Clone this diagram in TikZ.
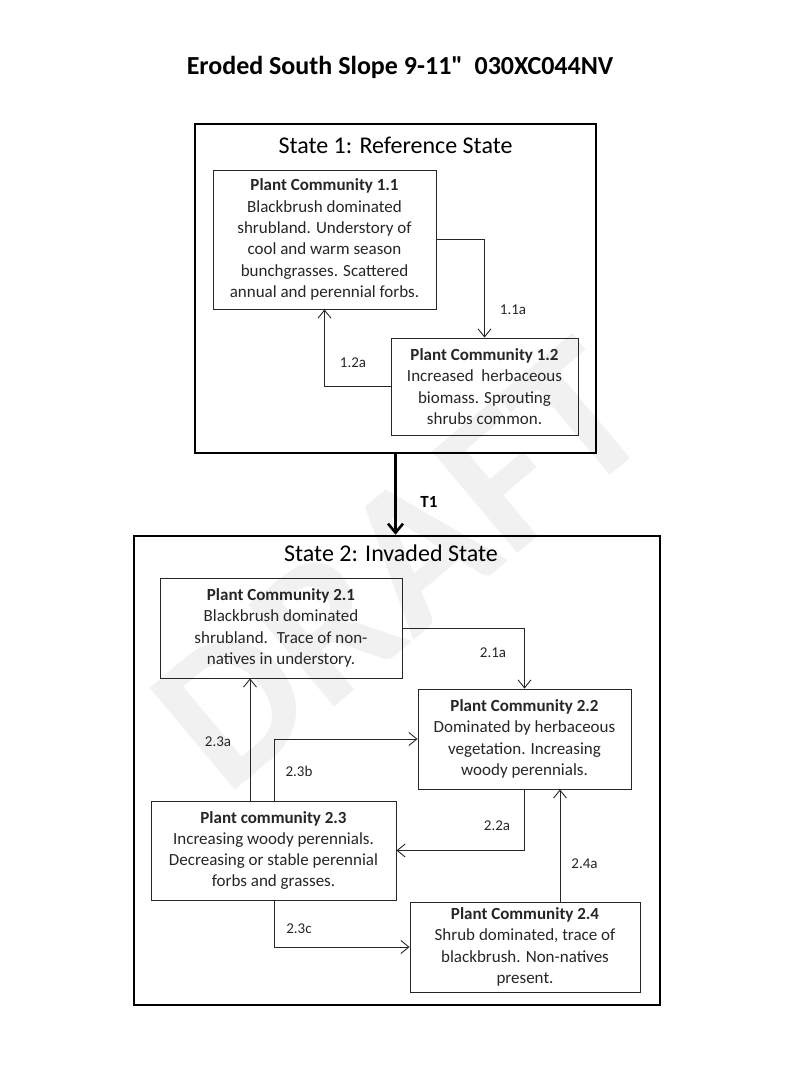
\documentclass[tikz,border=0pt]{standalone}
\usepackage{fontspec}
\setmainfont{Carlito}
\newfontfamily\qfont{Carlito}
\usetikzlibrary{arrows.meta}
\definecolor{ink}{HTML}{262626}
\definecolor{wm}{HTML}{F1F1F1}
\begin{document}
\begin{tikzpicture}[x=1pt,y=-1pt,
  pcbox/.style={draw=ink,line width=0.9pt,align=center,inner sep=0pt,text=ink,
    font=\fontsize{17}{21.3}\selectfont},
  statebox/.style={draw=black,line width=2.6pt,inner sep=0pt},
  arr/.style={draw=ink,line width=0.9pt,-{Straight Barb[length=8pt,width=13pt]}},
  bigarr/.style={draw=black,line width=2.6pt,-{Straight Barb[length=9pt,width=15pt]}},
  lbl/.style={text=ink,font=\fontsize{15}{17}\selectfont,inner sep=0pt},
  sttitle/.style={text=black,font=\fontsize{24}{28}\selectfont,inner sep=0pt}]
\useasboundingbox (0,0) rectangle (800,1067);
\fill[white] (0,0) rectangle (800,1067);
% watermark
\node[text=wm,rotate=40,font=\fontsize{205}{205}\selectfont\bfseries,inner sep=0pt] (wmk) at (400,565) {DRAFT};
% title
\node[font=\fontsize{26}{30}\selectfont\bfseries,inner sep=0pt] (title) at (400,67) {Eroded South Slope 9-11{\qfont\bfseries"}~ 030XC044NV};
% state 1
\node[statebox,minimum width=401pt,minimum height=329pt] (s1) at (395.5,288.5) {};
\node[sttitle] (s1t) at (395.5,145) {State 1: Reference State};
\node[pcbox,minimum width=223pt,minimum height=139pt] (pc11) at (324.5,239.5)
  {\textbf{Plant Community 1.1}\\Blackbrush dominated\\shrubland. Understory of\\cool and warm season\\bunchgrasses. Scattered\\annual and perennial forbs.};
\node[pcbox,minimum width=187pt,minimum height=97pt] (pc12) at (484.5,386.5)
  {\textbf{Plant Community 1.2}\\Increased~ herbaceous\\biomass. Sprouting\\shrubs common.};
\draw[arr] (pc11.east) -| (pc12.north);
\draw[arr] (pc12.west) -| (pc11.south);
\node[lbl] (l11a) at (513,310) {1.1a};
\node[lbl] (l12a) at (353,363) {1.2a};
% state 2
\node[statebox,minimum width=526pt,minimum height=469pt] (s2) at (397,770.5) {};
\node[sttitle] (s2t) at (391,553) {State 2: Invaded State};
\draw[bigarr] (s1.south) -- (s1.south |- s2.north);
\node[font=\fontsize{17}{19}\selectfont\bfseries,inner sep=0pt] (t1) at (429,502) {T1};
\node[pcbox,minimum width=242pt,minimum height=100pt] (pc21) at (281,628)
  {\textbf{Plant Community 2.1}\\Blackbrush dominated\\shrubland.~ Trace of non-\\natives in understory.};
\node[pcbox,minimum width=213pt,minimum height=100pt] (pc22) at (524.5,739)
  {\textbf{Plant Community 2.2}\\Dominated by herbaceous\\vegetation. Increasing\\woody perennials.};
\node[pcbox,minimum width=245pt,minimum height=99pt] (pc23) at (273.5,850.5)
  {\textbf{Plant community 2.3}\\Increasing woody perennials.\\Decreasing or stable perennial\\forbs and grasses.};
\node[pcbox,minimum width=230pt,minimum height=90pt] (pc24) at (525,947)
  {\textbf{Plant Community 2.4}\\Shrub dominated, trace of\\blackbrush. Non-natives\\present.};
\draw[arr] (pc21.east) -| (pc22.north);
\draw[arr] ([xshift=-23.5pt]pc23.north) -- ([xshift=-23.5pt]pc23.north |- pc21.south);
\draw[arr] ([xshift=0.5pt]pc23.north) |- (pc22.west);
\draw[arr] (pc22.south) |- (pc23.east);
\draw[arr] ([xshift=35pt]pc24.north) -- ([xshift=35pt]pc24.north |- pc22.south);
\draw[arr] ([xshift=0.5pt]pc23.south) |- (pc24.west);
\node[lbl] (l21a) at (493,653) {2.1a};
\node[lbl] (l23a) at (218,742) {2.3a};
\node[lbl] (l23b) at (299,771) {2.3b};
\node[lbl] (l22a) at (497,826) {2.2a};
\node[lbl] (l24a) at (584.5,864) {2.4a};
\node[lbl] (l23c) at (299,929) {2.3c};
\end{tikzpicture}
\end{document}
